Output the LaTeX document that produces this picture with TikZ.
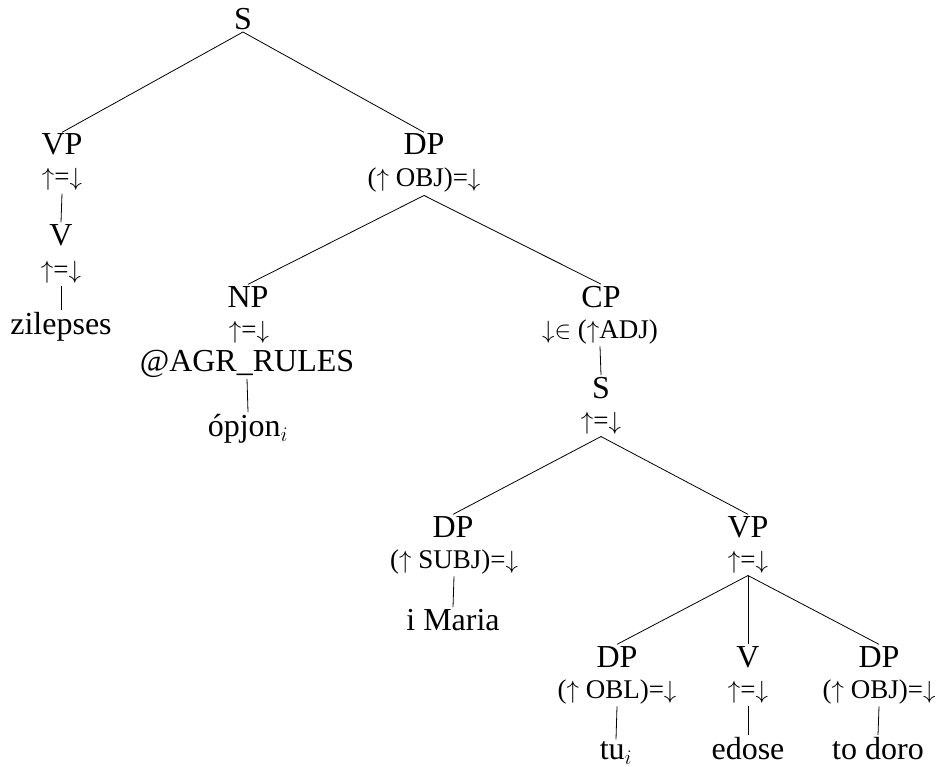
\documentclass[tikz,border=0pt]{standalone}
\usepackage{fontspec}
\setmainfont{Liberation Serif}
\begin{document}
\begin{tikzpicture}[x=1pt,y=-1pt,
  lbl/.style={font=\fontsize{32}{34}\selectfont, anchor=base, inner sep=1.5pt},
  ann/.style={font=\fontsize{27}{29}\selectfont, anchor=base, inner sep=2.5pt},
  edge/.style={draw, line width=0.8pt}]
\useasboundingbox (0,0) rectangle (944,767);
% nodes
\node[lbl] (S0) at (243,30) {S};
\node[lbl] (VP1) at (62,155) {VP};
\node[ann] (VP1a) at (62,186) {$\uparrow$=$\downarrow$};
\node[lbl] (V1) at (61,245) {V};
\node[ann] (V1a) at (61,278) {$\uparrow$=$\downarrow$};
\node[lbl] (w1) at (61,334) {zilepses};
\node[lbl] (DP1) at (424,155) {DP};
\node[ann] (DP1a) at (424,187) {($\uparrow$ OBJ)=$\downarrow$};
\node[lbl] (NP) at (248,307) {NP};
\node[ann] (NPa) at (249,338) {$\uparrow$=$\downarrow$};
\node[lbl] (AGR) at (247,371) {@AGR\_RULES};
\node[lbl] (w2) at (248,436) {ópjon$_i$};
\node[lbl] (CP) at (601,307) {CP};
\node[ann] (CPa) at (600,338) {$\downarrow\in$ ($\uparrow$ADJ)};
\node[lbl] (S2) at (601,398) {S};
\node[ann] (S2a) at (601,429) {$\uparrow$=$\downarrow$};
\node[lbl] (DP2) at (453,537) {DP};
\node[ann] (DP2a) at (454,568) {($\uparrow$ SUBJ)=$\downarrow$};
\node[lbl] (w3) at (453,630) {i Maria};
\node[lbl] (VP2) at (748,537) {VP};
\node[ann] (VP2a) at (748,568) {$\uparrow$=$\downarrow$};
\node[lbl] (DP3) at (617,667) {DP};
\node[ann] (DP3a) at (617,698) {($\uparrow$ OBL)=$\downarrow$};
\node[lbl] (w4) at (616,759) {tu$_i$};
\node[lbl] (V3) at (748,667) {V};
\node[ann] (V3a) at (748,698) {$\uparrow$=$\downarrow$};
\node[lbl] (w5) at (748,759) {edose};
\node[lbl] (DP4) at (879,667) {DP};
\node[ann] (DP4a) at (879,698) {($\uparrow$ OBJ)=$\downarrow$};
\node[lbl] (w6) at (878,759) {to doro};
% edges
\path[edge] (S0.south) -- (VP1.north);
\path[edge] (S0.south) -- (DP1.north);
\path[edge] (VP1a.south) -- (V1.north);
\path[edge] (V1a.south) -- (w1.north);
\path[edge] (DP1a.south) -- (NP.north);
\path[edge] (DP1a.south) -- (CP.north);
\path[edge] (AGR.south) -- (w2.north);
\path[edge] (CPa.south) -- (S2.north);
\path[edge] (S2a.south) -- (DP2.north);
\path[edge] (S2a.south) -- (VP2.north);
\path[edge] (DP2a.south) -- (w3.north);
\path[edge] (VP2a.south) -- (DP3.north);
\path[edge] (VP2a.south) -- (V3.north);
\path[edge] (VP2a.south) -- (DP4.north);
\path[edge] (DP3a.south) -- (w4.north);
\path[edge] (V3a.south) -- (w5.north);
\path[edge] (DP4a.south) -- (w6.north);
\end{tikzpicture}
\end{document}
